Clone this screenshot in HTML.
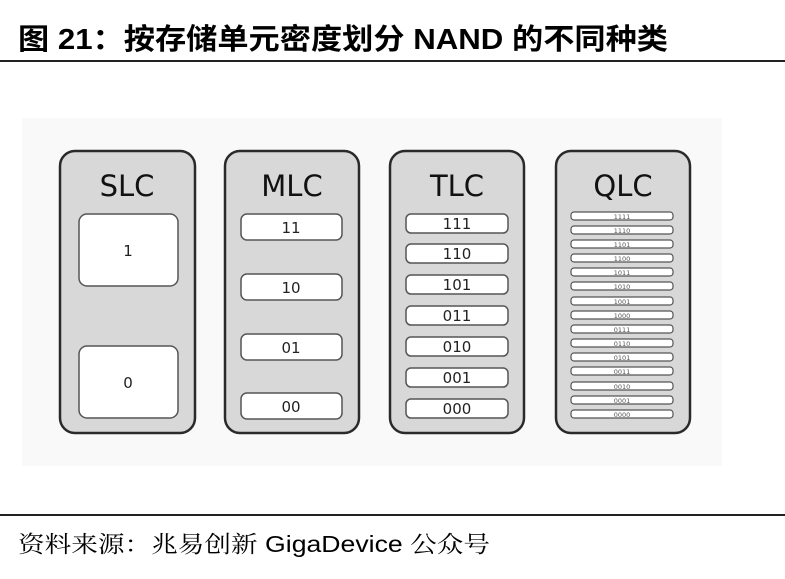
<!DOCTYPE html>
<html><head><meta charset="utf-8"><style>
html,body{margin:0;padding:0;background:#fff;}
body{width:785px;height:574px;overflow:hidden;position:relative;}
</style></head><body>
<svg width="785" height="574" viewBox="0 0 785 574" xmlns="http://www.w3.org/2000/svg">
<text x="18" y="49" textLength="650" lengthAdjust="spacingAndGlyphs" font-family="Liberation Sans, 'Noto Sans CJK SC', sans-serif" font-size="29" font-weight="bold" fill="#000">图 21：按存储单元密度划分 NAND 的不同种类</text>
<rect x="0" y="60" width="785" height="2" fill="#222"/>
<rect x="22" y="118" width="700" height="348" fill="#f9f9f9"/>
<g stroke="#2a2a2a" stroke-width="2.5" fill="#d8d8d8">
<rect x="60" y="151" width="135" height="282" rx="15"/>
<rect x="225" y="151" width="134" height="282" rx="15"/>
<rect x="390" y="151" width="134" height="282" rx="15"/>
<rect x="556" y="151" width="134" height="282" rx="15"/>
</g>
<g font-family="'DejaVu Sans', sans-serif" font-size="29" fill="#111" text-anchor="middle">
<text x="127" y="196">SLC</text><text x="292" y="196">MLC</text><text x="457" y="196">TLC</text><text x="623" y="196">QLC</text>
</g>
<g stroke="#555" stroke-width="1.5" fill="#fff">
<rect x="79" y="214" width="99" height="72" rx="8"/>
<rect x="79" y="346" width="99" height="72" rx="8"/>
<rect x="241" y="214" width="101" height="26" rx="6"/>
<rect x="241" y="274" width="101" height="26" rx="6"/>
<rect x="241" y="334" width="101" height="26" rx="6"/>
<rect x="241" y="393" width="101" height="26" rx="6"/>
<rect x="406" y="214" width="102" height="19" rx="5"/>
<rect x="406" y="244" width="102" height="19" rx="5"/>
<rect x="406" y="275" width="102" height="19" rx="5"/>
<rect x="406" y="306" width="102" height="19" rx="5"/>
<rect x="406" y="337" width="102" height="19" rx="5"/>
<rect x="406" y="368" width="102" height="19" rx="5"/>
<rect x="406" y="399" width="102" height="19" rx="5"/>
</g>
<g font-family="'DejaVu Sans', sans-serif" font-size="15" fill="#222" text-anchor="middle">
<text x="128" y="256">1</text><text x="128" y="388">0</text>
<text x="291" y="233">11</text><text x="291" y="293">10</text><text x="291" y="353">01</text><text x="291" y="412">00</text>
<text x="457" y="229">111</text><text x="457" y="259">110</text><text x="457" y="290">101</text><text x="457" y="321">011</text><text x="457" y="352">010</text><text x="457" y="383">001</text><text x="457" y="414">000</text>
</g>
<g stroke="#555" stroke-width="1.2" fill="#fff">
<rect x="571" y="212" width="102" height="8" rx="3"/>
<rect x="571" y="226" width="102" height="8" rx="3"/>
<rect x="571" y="240" width="102" height="8" rx="3"/>
<rect x="571" y="254" width="102" height="8" rx="3"/>
<rect x="571" y="268" width="102" height="8" rx="3"/>
<rect x="571" y="282" width="102" height="8" rx="3"/>
<rect x="571" y="297" width="102" height="8" rx="3"/>
<rect x="571" y="311" width="102" height="8" rx="3"/>
<rect x="571" y="325" width="102" height="8" rx="3"/>
<rect x="571" y="339" width="102" height="8" rx="3"/>
<rect x="571" y="353" width="102" height="8" rx="3"/>
<rect x="571" y="367" width="102" height="8" rx="3"/>
<rect x="571" y="382" width="102" height="8" rx="3"/>
<rect x="571" y="396" width="102" height="8" rx="3"/>
<rect x="571" y="410" width="102" height="8" rx="3"/>
</g>
<g font-family="'DejaVu Sans', sans-serif" font-size="6.5" fill="#555" text-anchor="middle">
<text x="622" y="219">1111</text><text x="622" y="233">1110</text><text x="622" y="247">1101</text><text x="622" y="261">1100</text><text x="622" y="275">1011</text><text x="622" y="289">1010</text><text x="622" y="304">1001</text><text x="622" y="318">1000</text><text x="622" y="332">0111</text><text x="622" y="346">0110</text><text x="622" y="360">0101</text><text x="622" y="374">0011</text><text x="622" y="389">0010</text><text x="622" y="403">0001</text><text x="622" y="417">0000</text>
</g>
<rect x="0" y="514" width="785" height="2" fill="#222"/>
<text x="18" y="552" textLength="472" lengthAdjust="spacingAndGlyphs" font-family="Liberation Sans, 'Noto Serif CJK SC', serif" font-size="23" fill="#000">资料来源：兆易创新 GigaDevice 公众号</text>
</svg>
</body></html>
